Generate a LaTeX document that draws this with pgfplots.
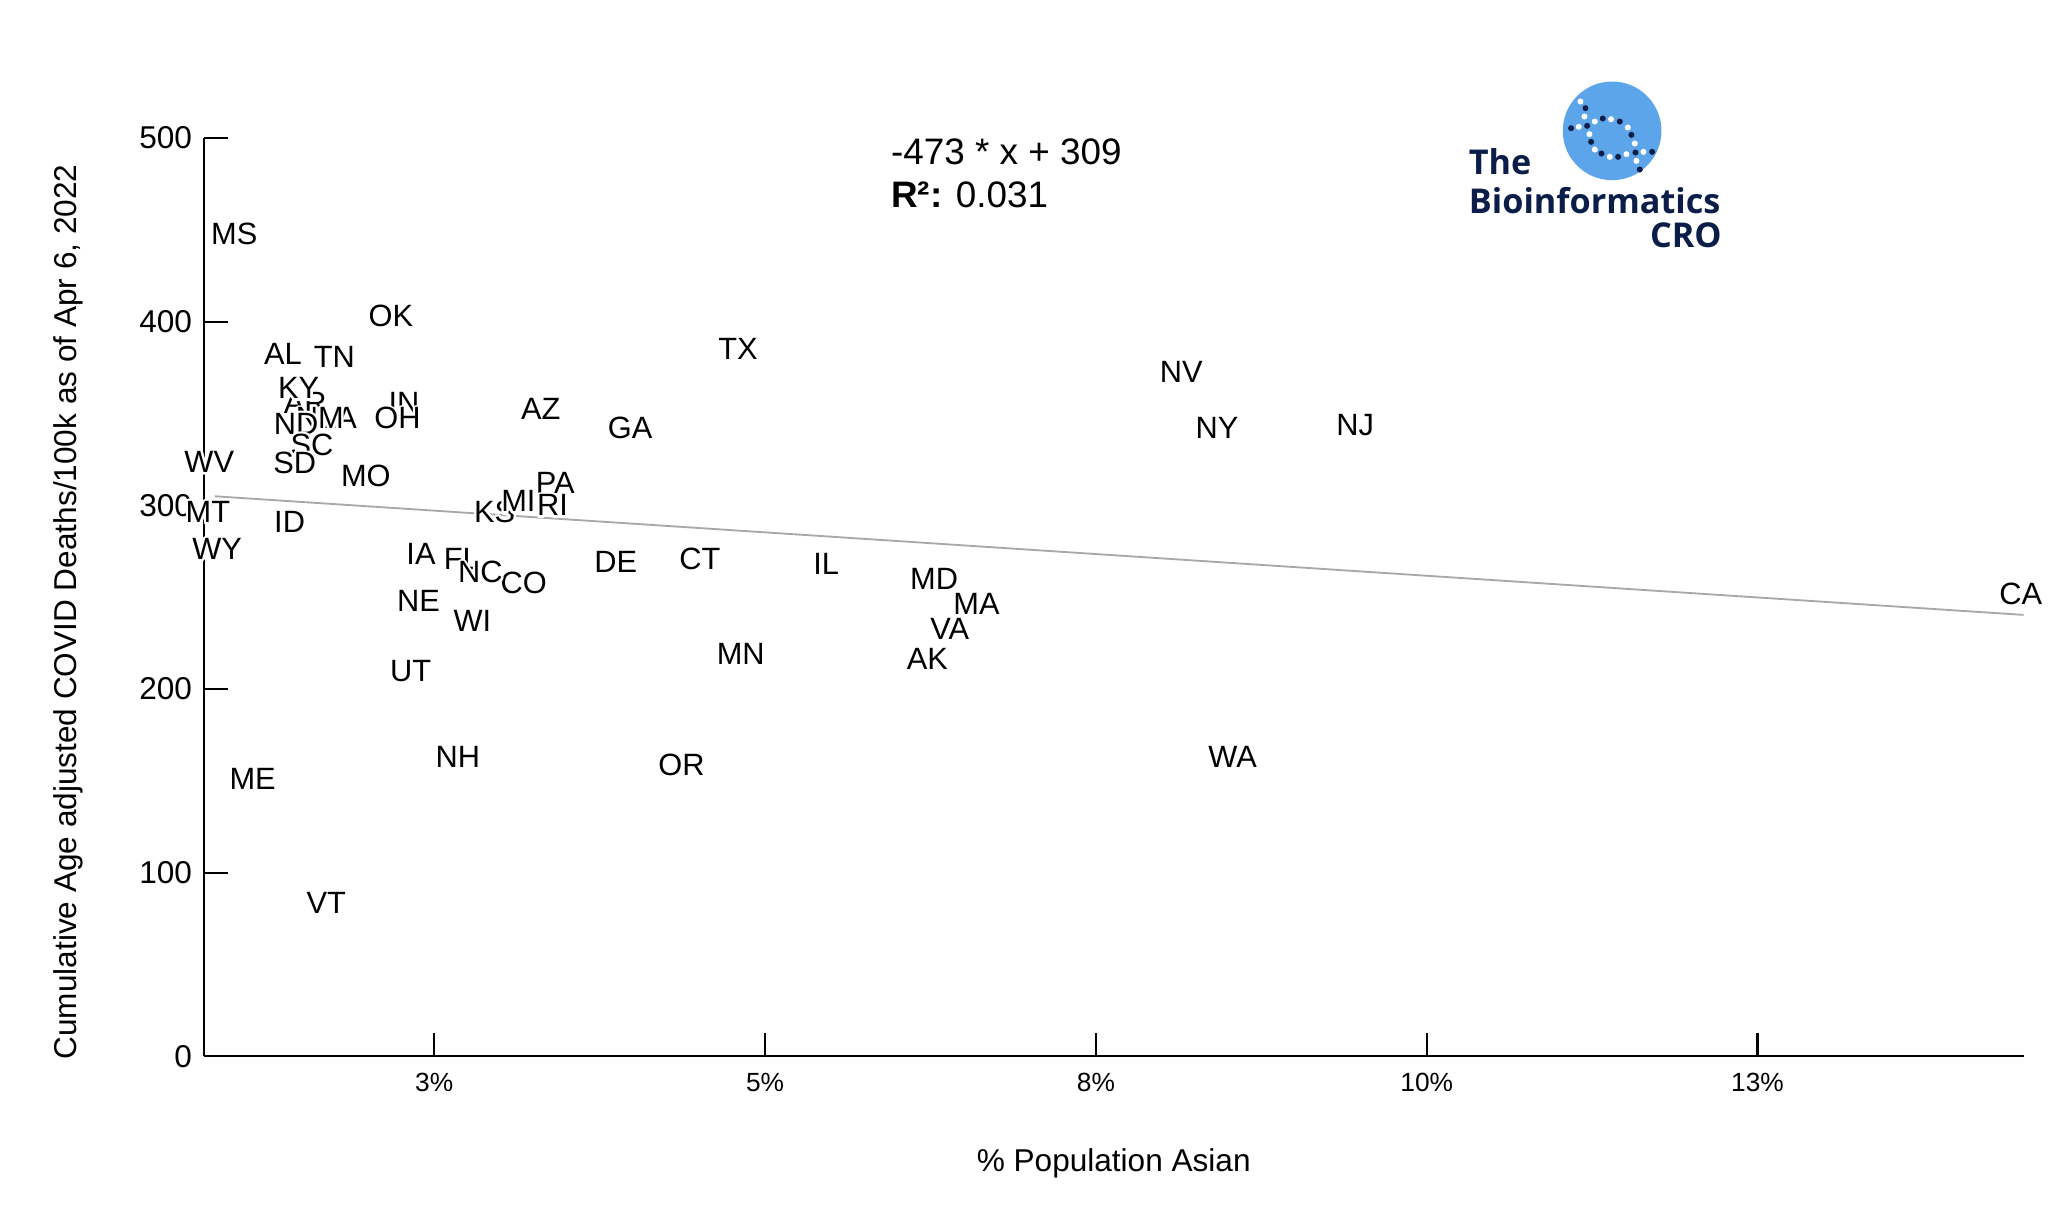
\documentclass[border=0pt]{standalone}
\usepackage{pgfplots}
\pgfplotsset{compat=1.18}
\usepackage{fontspec}
\setmainfont{Liberation Sans}
\newfontfamily\logofont{Open Sans}
\definecolor{logoblue}{HTML}{5CA5EA}
\definecolor{navy}{HTML}{0B1E4A}
\definecolor{fitgray}{HTML}{A8A8A8}
\newcommand{\halo}[1]{{\special{pdf:literal q 1 1 1 RG 1 1 1 rg 1.8 w 1 j 2 Tr}\rlap{#1}\special{pdf:literal Q}}#1}

\pgfplotstableread{
x y label
0.01357 382.5 AL
0.06227 216.3 AK
0.03305 352.4 AZ
0.01526 356.0 AR
0.14490 252.1 CA
0.03176 257.9 CO
0.04508 270.8 CT
0.03872 269.3 DE
0.02709 270.8 FL
0.03981 342.4 GA
0.01407 290.8 ID
0.05462 267.9 IL
0.02271 356.0 IN
0.02400 273.6 IA
0.02957 296.6 KS
0.01476 363.9 KY
0.01774 347.4 LA
0.01128 151.1 ME
0.06277 260.0 MD
0.06598 246.4 MA
0.03136 302.3 MI
0.04816 219.2 MN
0.00989 447.7 MS
0.01983 315.9 MO
0.00790 296.6 MT
0.02381 247.9 NE
0.08146 372.5 NV
0.02679 163.3 NH
0.09459 343.8 NJ
0.01635 347.4 NM
0.08415 342.4 NY
0.02848 263.6 NC
0.01456 344.6 ND
0.02222 347.4 OH
0.02172 403.3 OK
0.04369 159.0 OR
0.03415 312.3 PA
0.03394 300.1 RI
0.01576 333.1 SC
0.01446 323.1 SD
0.01745 381.1 TN
0.04796 385.4 TX
0.02321 209.9 UT
0.01685 83.8 VT
0.06396 232.8 VA
0.08534 163.3 WA
0.00800 323.8 WV
0.02788 237.1 WI
0.00860 276.5 WY
}\statedata

\begin{document}
\begin{tikzpicture}
\begin{axis}[
  scale only axis,
  width=691.5pt, height=349pt,
  xmin=0.0076, xmax=0.1451,
  ymin=0, ymax=500,
  axis x line=bottom, axis y line=left,
  axis line style={-, line width=0.8pt, black},
  tick style={line width=0.8pt, black},
  tick align=inside,
  major tick length=9pt,
  xtick={0.025,0.05,0.075,0.1,0.125},
  xticklabels={3\%,5\%,8\%,10\%,13\%},
  ytick={0,100,200,300,400,500},
  /pgf/number format/assume math mode=true,
  xticklabel style={font=\fontsize{10}{12}\selectfont, yshift=-3pt},
  yticklabel style={font=\fontsize{12}{14}\selectfont, xshift=-1pt},
  xlabel={\% Population Asian},
  ylabel={Cumulative Age adjusted COVID Deaths/100k as of Apr 6, 2022},
  xlabel style={font=\fontsize{12}{14}\selectfont, at={(axis description cs:0.5,-0.116)}, anchor=center},
  ylabel style={font=\fontsize{12}{14}\selectfont, at={(axis description cs:-0.0745,0.484)}, anchor=center},
  clip=false,
]
\addplot[fitgray, line width=0.7pt] coordinates {(0.0084,305.0) (0.1451,240.4)};
\addplot[draw=none, mark=none, nodes near coords={\halo{\pgfplotspointmeta}},
  point meta=explicit symbolic,
  every node near coord/.style={anchor=center, inner sep=0pt, font=\fontsize{11.7}{13}\selectfont, black}]
  table[x=x, y=y, meta=label] {\statedata};

\node[anchor=base west, font=\fontsize{14}{16}\selectfont, inner sep=0pt] at (axis description cs:0.3774,0.9713) {-473 * x + 309};
\node[anchor=base west, font=\fontsize{14}{16}\selectfont, inner sep=0pt] at (axis description cs:0.3774,0.924) {\textbf{R²:} 0.031};

\node[anchor=base west, inner sep=0pt, text=navy, font=\logofont\bfseries\fontsize{13}{15}\selectfont] at (axis description cs:0.6949,0.9599) {The};
\node[anchor=base west, inner sep=0pt, text=navy, font=\logofont\bfseries\fontsize{13}{15}\selectfont] at (axis description cs:0.6949,0.9183) {Bioinformatics};
\node[anchor=base east, inner sep=0pt, text=navy, font=\logofont\bfseries\fontsize{13}{15}\selectfont] at (axis description cs:0.8344,0.8811) {CRO};

\coordinate (lc) at (axis description cs:0.7739,1.0079);
\coordinate (bbsw) at (axis description cs:-0.1121,-0.1619);
\coordinate (bbne) at (axis description cs:1.0217,1.1504);
\end{axis}
% logo
\fill[logoblue] (lc) circle (18.75pt);
\begin{scope}[shift={(lc)}, x=0.1267pt, y=-0.1267pt]
  \foreach \px/\py in {-95/-88,-83/-43,-100/-12,-52/-28,-3/-35,47/-10,68/38,73/90,94/63,-68/10,-52/56,-7/78,43/70}
    \fill[white] (\px,\py) circle (1.15pt);
  \foreach \px/\py in {-80/-68,-123/-8,-75/-15,-28/-37,23/-28,58/12,70/65,83/116,120/63,-63/33,-32/68,18/78}
    \fill[navy] (\px,\py) circle (1.15pt);
\end{scope}
\pgfresetboundingbox
\path[use as bounding box] (bbsw) rectangle (bbne);
\end{tikzpicture}
\end{document}
